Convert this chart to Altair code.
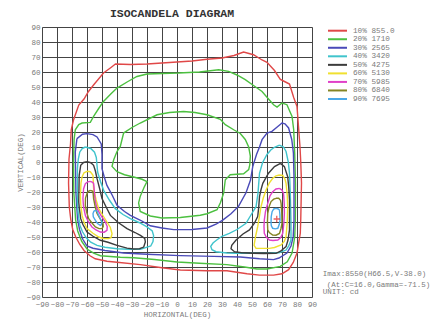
import altair as alt
import pandas as pd

# ---------------- data ----------------
levels = ["10%", "20%", "30%", "40%", "50%", "60%", "70%", "80%", "90%"]
candela = ["855.0", "1710", "2565", "3420", "4275", "5130", "5985", "6840", "7695"]
colors = ["#e04848", "#4cc040", "#4a4ab8", "#40c4cc", "#3c3c3c",
          "#f0e030", "#e040c8", "#848424", "#4aa8e8"]

title_text = "ISOCANDELA DIAGRAM"
x_title = "HORIZONTAL(DEG)"
y_title = "VERTICAL(DEG)"
info_lines = ["Imax:8550(H66.5,V-38.0)", "(At:C=16.0,Gamma=-71.5)", "UNIT: cd"]
imax_h = [66.5]
imax_v = [-38.0]
ticks = list(range(-90, 91, 10))

c10 = [(-72, 2), (-71, 12), (-70.5, 21.5), (-69, 28), (-65.5, 38), (-62, 42), (-59, 47),
       (-55.5, 51.5), (-49, 59.3), (-44, 63), (-41, 65.3), (-31, 65), (-20, 65.3), (-10, 66),
       (0, 66.7), (10, 67.3), (20, 68.5), (30, 69.3), (38, 71), (44.4, 73.3), (51, 71.5),
       (56.7, 68), (60, 66.5), (65, 61), (68.9, 55), (72, 53.5), (75, 52), (77.8, 43),
       (80, 37), (81, 23.7), (82, 10), (82.5, 0), (83, -14), (82.5, -38.4), (82.2, -47.4),
       (80, -60.7), (77.5, -67), (74.4, -71.8), (70, -74.5), (64.4, -75.4), (55, -75.4),
       (46.7, -74.5), (40, -73.5), (33.3, -72.5), (20, -72.5), (2.2, -72), (-10, -70.5),
       (-24.4, -68.4), (-40, -66.8), (-46.7, -66.2), (-54.5, -64.5), (-58, -62.5),
       (-62, -59), (-64.8, -55), (-67.5, -50), (-69.5, -45), (-70.8, -38.4), (-71.8, -30),
       (-72.3, -14), (-72, 2)]

c20_outer = [(-68.6, 15), (-67.8, 21.5), (-65.5, 25), (-63.3, 26), (-57.8, 26.4), (-55.6, 30.4),
             (-52, 36), (-49, 40.4), (-44, 45.5), (-40, 49.3), (-33, 53.5), (-26.7, 57),
             (-20, 58.7), (-10, 59), (1, 59.3), (15, 60), (27.8, 61.5), (34.4, 60.4), (40, 58),
             (45.5, 54.9), (51, 51), (56.7, 47), (61, 42), (64.4, 38.2), (66.7, 36.6), (70, 39.3),
             (73.3, 38.2), (76.7, 30.4), (77.8, 21.5), (78.5, 5), (79, -15), (78.9, -38.4),
             (78.5, -50), (76.7, -60.7), (73.5, -66.5), (68.9, -69.6), (60, -71.3), (53.3, -71.3),
             (45, -70), (33.3, -68.4), (15, -67.5), (0, -66.7), (-15, -65), (-28.9, -63.8),
             (-37.8, -63.5), (-51, -62.5), (-55.6, -60.7), (-60, -58), (-63.5, -53),
             (-66.2, -46), (-67.6, -38.4), (-68.8, -20), (-69, 0), (-68.6, 15)]

c20_inner = [(-42.2, 1.5), (-40, 7), (-37.8, 10.4), (-35.6, 19.3), (-30, 23), (-24.5, 26),
             (-13.3, 31.5), (-5, 33), (4.4, 33.7), (12, 33), (20, 31.5), (28.9, 28.5),
             (32.2, 24.9), (37.8, 21.5), (42.2, 19), (45.5, 15), (47.8, 10), (48.9, 4),
             (48.5, -2), (47.8, -5.1), (44.4, -7.8), (35.5, -8.5), (32.2, -11.8), (31.1, -20.7),
             (29, -27), (26.7, -31.8), (20, -34.5), (15.5, -35.5), (2.2, -37), (-10, -37.3),
             (-17.8, -36), (-24.5, -33), (-25.6, -27.3), (-24.5, -22.9), (-22, -17), (-20, -13),
             (-23.3, -11.5), (-28.9, -10), (-35, -8.5), (-40, -6.5), (-43.3, -2.9), (-42.2, 1.5)]

c30 = [(-66.7, 15.6), (-63, 18.5), (-60, 18.9), (-56, 18.3), (-53.3, 16.7), (-50.5, 12),
       (-50, 5), (-50, -4.4), (-48.5, -10), (-46.7, -15.6), (-43, -22.5), (-40, -28.9),
       (-35, -33), (-31.1, -35.6), (-24, -39), (-17.8, -42.5), (-10, -44), (-2.2, -45.1),
       (10, -45), (20, -44), (26, -41.5), (30.5, -38.7), (36, -34.5), (41, -29.6), (46, -20.5),
       (49, -12), (50.5, -3.1), (53, 5), (55, 10), (56.7, 14.9), (60, 19.3), (63.3, 20.4),
       (67, 23.5), (70, 26), (72, 25.5), (74.4, 22.7), (76.5, 15), (77.6, 6), (78, -10),
       (78, -38.5), (77.5, -49.6), (76, -56), (73.3, -60.7), (68, -64), (64.4, -65.1),
       (55, -64.5), (42.2, -63.3), (24.4, -62.9), (2.2, -62.4), (-20, -61.5), (-35.6, -60.7),
       (-48, -59), (-56, -57.5), (-60, -56), (-62.8, -51.5), (-65, -45), (-66.3, -38),
       (-67.4, -20), (-67.8, 6.7), (-66.7, 15.6)]

c40_left = [(-61.1, 10), (-57.5, 9), (-55, 6.5), (-53.8, 3), (-52.9, -6.7), (-51, -13),
            (-48.9, -18.9), (-45, -25.5), (-41.1, -31.1), (-36, -35), (-31.1, -37.8),
            (-25, -40.5), (-20, -43.3), (-16.5, -46), (-15.6, -49), (-16, -53), (-17.5, -56),
            (-24.4, -58.2), (-32, -58.2), (-40, -57.8), (-48, -56.8), (-53.3, -55.6),
            (-57.5, -53.5), (-60.5, -50.5), (-63, -46.5), (-64.8, -42), (-65.8, -35),
            (-66.4, -26.7), (-66.4, -4.4), (-65.8, 2), (-64.8, 6.7), (-63.2, 9), (-61.1, 10)]

c40_right = [(68.3, 11.2), (71, 10), (72.7, 7), (74.2, 0), (75, -7.6), (75.5, -20), (76, -40.9),
             (76, -52), (74.5, -56), (72.7, -58.7), (68, -60.5), (60, -60.9), (50, -60.9),
             (40, -60.9), (33.3, -60.7), (26, -59.8), (23.3, -58.5), (22.5, -56.3), (24, -54),
             (26.7, -51.8), (30, -49.5), (34.9, -47.6), (40, -45), (46, -40.9), (49.5, -35),
             (52.7, -29.8), (54, -20.7), (55, -7.6), (57, -0.5), (60, 5), (62.5, 8), (65, 9.8),
             (68.3, 11.2)]

c50_left = [(-60, 0.2), (-57.5, -0.5), (-55.6, -2.2), (-54.4, -6), (-53.3, -11.1), (-51.5, -18),
            (-50, -24.4), (-47, -30.5), (-44.4, -35.6), (-39, -40.5), (-33.3, -44.4), (-28, -47),
            (-24.4, -48.9), (-21.5, -51), (-21.1, -53.3), (-22.2, -56.7), (-25, -57.8),
            (-28.9, -58), (-33.3, -57.4), (-40, -55.6), (-46, -53.5), (-51.1, -52.2),
            (-56, -49.5), (-60, -46.7), (-62.8, -41.5), (-64.2, -37.8), (-65.2, -30),
            (-65.5, -26.7), (-65.2, -8.9), (-64.2, -2.2), (-62.3, -0.3), (-60, 0.2)]

c50_right = [(69, -0.9), (71.6, -3.1), (73.8, -9.8), (74.5, -17), (75, -25.3), (75, -45.3),
             (74, -52), (72.7, -56.4), (69, -59.5), (66, -60.9), (58, -61), (50.5, -60.9),
             (43, -60.5), (38.3, -59.8), (36, -57.8), (36.5, -55.5), (39.4, -52), (44, -48),
             (48.3, -45.3), (51.5, -41), (53.8, -36.4), (54.5, -30), (55, -23.1), (56, -18.5),
             (57.2, -14.2), (61, -7.5), (65, -3.1), (69, -0.9)]

c60_left = [(-60, -6.2), (-57.8, -6.5), (-56, -8.9), (-55.8, -13), (-55.6, -17.8), (-54, -25),
            (-52.2, -31.1), (-49.5, -35.5), (-46.7, -40), (-44.5, -43.5), (-43.3, -47.8),
            (-44, -50.5), (-45.6, -51.1), (-49, -51), (-52.2, -50), (-56, -47.5), (-60, -44.4),
            (-62, -40), (-63.3, -35.6), (-64.2, -28), (-64.4, -22.2), (-64, -14), (-63.3, -10),
            (-62, -7.2), (-60, -6.2)]

c60_right = [(68.3, -8.7), (70.5, -9), (72, -11.5), (72.7, -14.2), (73.5, -22), (73.8, -29.8),
             (73.5, -40), (72.7, -49.8), (71.5, -53), (69.4, -55.3), (65, -57), (61.6, -57.6),
             (56, -57.6), (52.7, -57.6), (51.4, -55.5), (51.6, -54.2), (52.5, -49), (53.8, -43.1),
             (55, -36), (56, -29.8), (57.5, -24), (59.4, -18.7), (61.5, -14), (63.8, -10.9),
             (66, -9.2), (68.3, -8.7)]

c70_left = [(-57.8, -12.9), (-56.2, -13.5), (-55.6, -14.4), (-55.3, -17), (-55.1, -20),
            (-54.5, -26), (-53.3, -31.1), (-50.5, -36), (-47.8, -40), (-46.5, -43),
            (-46.7, -45.6), (-48.5, -46.8), (-51.1, -46.7), (-54, -45.3), (-56.7, -43.3),
            (-59, -40), (-61.1, -35.6), (-62.3, -30), (-62.7, -24.4), (-62.3, -18),
            (-61.1, -14.4), (-59.5, -13.2), (-57.8, -12.9)]

c70_right = [(68.3, -17.6), (70, -18.7), (71, -21), (71.2, -23.1), (71.5, -28), (71.6, -34.2),
             (71.2, -41), (70.5, -47.6), (69, -50.5), (67.2, -52), (64, -52.3), (61.6, -52),
             (59.5, -50), (58.2, -47.6), (58, -43), (58.2, -38.7), (59, -33), (60.5, -27.6),
             (62, -22.5), (63.8, -19.8), (66, -18), (68.3, -17.6)]

c80_left = [(-57.8, -18.9), (-56.3, -19.4), (-56, -20), (-55.8, -22), (-55.6, -24.4),
            (-54.5, -30), (-53.3, -34.4), (-51.2, -38), (-49.3, -41.1), (-49.2, -43),
            (-50, -44.4), (-52, -44.4), (-54.4, -43.3), (-56.8, -40.5), (-58.9, -37.8),
            (-60.2, -33.5), (-61.1, -28.9), (-61, -24), (-60, -21.1), (-59, -19.5), (-57.8, -18.9)]

c80_right = [(66, -24.2), (67.8, -24.2), (69, -25.5), (69.4, -27.6), (69.8, -33), (70, -40.9),
             (69.3, -44.5), (68.3, -47.6), (66, -48.8), (63.8, -48.7), (61.5, -47), (60.5, -45.3),
             (60.3, -40), (60.5, -34.2), (61.5, -29.5), (62.7, -26.4), (64.5, -24.8), (66, -24.2)]

c90_left = [(-54.4, -32.2), (-53.2, -33), (-52.2, -35.6), (-51, -38), (-50, -40), (-50.5, -41.8),
            (-51.1, -42.2), (-53, -41), (-54.4, -38.9), (-55.8, -36.5), (-56, -34.4),
            (-55.4, -32.8), (-54.4, -32.2)]

c90_right = [(66, -30.9), (67.5, -31.3), (68.3, -32), (68.6, -35), (68.7, -38.7), (68.2, -41.5),
             (67.2, -44.2), (65.5, -44.6), (63.8, -44.2), (62.9, -42.5), (62.7, -40.9),
             (62.8, -36.5), (63.4, -33.1), (64.5, -31.3), (66, -30.9)]

paths = [("10%", c10), ("20%", c20_outer), ("20%", c20_inner), ("30%", c30),
         ("40%", c40_left), ("40%", c40_right), ("50%", c50_left), ("50%", c50_right),
         ("60%", c60_left), ("60%", c60_right), ("70%", c70_left), ("70%", c70_right),
         ("80%", c80_left), ("80%", c80_right), ("90%", c90_left), ("90%", c90_right)]

rows = []
for pid, (lvl, pts) in enumerate(paths):
    for i, (h, v) in enumerate(pts):
        rows.append({"path": pid, "level": lvl, "seq": i, "H": h, "V": v})
df = pd.DataFrame(rows)

legend_df = pd.DataFrame({"level": levels,
                          "label": [f"{l} {c}" for l, c in zip(levels, candela)]})

FONT = "Liberation Mono"
GRAY = "#7a7a7a"

color_scale = alt.Scale(domain=levels, range=colors)
xscale = alt.Scale(domain=[-90, 90], nice=False, zero=False)
yscale = alt.Scale(domain=[-90, 90], nice=False, zero=False)

x_axis = alt.Axis(values=ticks, tickCount=19, title=x_title, grid=True, gridColor="#444444",
                  gridWidth=1, domain=False, ticks=False, labelFont=FONT, labelFontSize=7.6,
                  labelColor=GRAY, labelPadding=3, labelOverlap=False, labelFlush=False,
                  titleFont=FONT, titleFontSize=7.5, titleColor=GRAY,
                  titleFontWeight="normal", titlePadding=3)
y_axis = alt.Axis(values=ticks, tickCount=19, title=y_title, grid=True, gridColor="#444444",
                  gridWidth=1, domain=False, ticks=False, labelFont=FONT, labelFontSize=7.6,
                  labelColor=GRAY, labelPadding=2, labelOverlap=False, labelFlush=False,
                  titleFont=FONT, titleFontSize=7.5, titleColor=GRAY,
                  titleFontWeight="normal", titlePadding=2)

lines = alt.Chart(df).mark_line(strokeWidth=1.4).encode(
    x=alt.X("H:Q", scale=xscale, axis=x_axis),
    y=alt.Y("V:Q", scale=yscale, axis=y_axis),
    color=alt.Color("level:N", scale=color_scale, legend=None),
    detail="path:N",
    order="seq:Q",
)

cross = alt.Chart(pd.DataFrame({"H": imax_h, "V": imax_v})).mark_point(
    shape="M-1,0L1,0M0,-1L0,1", size=40, filled=False, color="#e02020", strokeWidth=1.3
).encode(x=alt.X("H:Q", scale=xscale, axis=x_axis), y=alt.Y("V:Q", scale=yscale, axis=y_axis))

main = alt.layer(lines, cross)

leg_y = alt.Y("level:N", scale=alt.Scale(type="point", domain=levels, range=[3.7, 72], padding=0),
              axis=None)
leg_rule = alt.Chart(legend_df).mark_rule(strokeWidth=2).encode(
    x=alt.value(286), x2=alt.value(305), y=leg_y,
    color=alt.Color("level:N", scale=color_scale, legend=None))
leg_text = alt.Chart(legend_df).mark_text(
    align="left", baseline="middle", font=FONT, fontSize=7.7, color=GRAY
).encode(x=alt.value(311), y=leg_y, text="label:N")
legend = alt.layer(leg_rule, leg_text)

title = alt.Chart(pd.DataFrame({"t": [title_text]})).mark_text(
    align="center", baseline="middle", font=FONT, fontSize=11.5, fontWeight="bold", color="#333333"
).encode(x=alt.value(130), y=alt.value(-13.5), text="t:N")

info_pos = [(280.7, 247), (284.7, 257.7), (280.7, 265.4)]
info = [alt.Chart(pd.DataFrame({"t": [t]})).mark_text(
    align="left", baseline="middle", font=FONT, fontSize=7.5, color=GRAY
).encode(x=alt.value(px), y=alt.value(py), text="t:N") for t, (px, py) in zip(info_lines, info_pos)]

chart = alt.layer(main, legend, title, *info).resolve_scale(y="independent").properties(
    width=270, height=270,
    autosize=alt.AutoSizeParams(type="none"),
    padding={"left": 34, "top": 19, "right": 118, "bottom": 28},
).configure_view(stroke=None).configure(background="white")

chart.save("out.html", embed_options={"renderer": "svg", "actions": False})
